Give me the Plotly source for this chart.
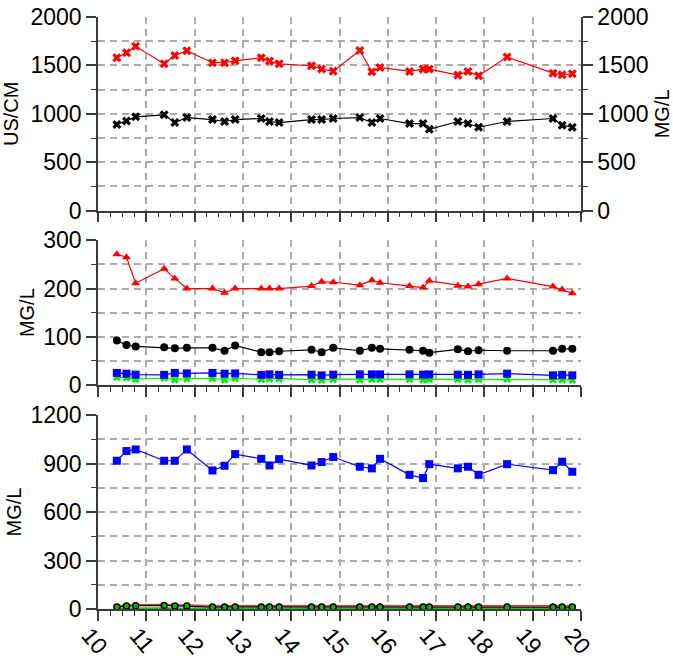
import plotly.graph_objects as go

# Sample times (decimal axis units)
t = [10.39, 10.59, 10.78, 11.37, 11.59, 11.84, 12.37, 12.62, 12.84, 13.38,
     13.55, 13.75, 14.42, 14.63, 14.87, 15.42, 15.67, 15.84, 16.45, 16.73,
     16.86, 17.45, 17.66, 17.88, 18.47, 19.42, 19.61, 19.82]

# Top panel: conductance (US/CM) and dissolved solids (MG/L)
conductance = [1579, 1631, 1697, 1517, 1603, 1652, 1528, 1528, 1548, 1579,
               1545, 1517, 1497, 1462, 1441, 1655, 1434, 1479, 1438, 1462,
               1462, 1400, 1438, 1393, 1586, 1420, 1403, 1414]
dissolved = [890, 927, 969, 990, 910, 962, 941, 921, 941, 952,
             921, 910, 941, 941, 952, 962, 910, 952, 900, 900,
             841, 921, 900, 862, 921, 952, 883, 862]

# Middle panel (MG/L)
mid_red = [271, 265, 211, 241, 221, 200, 200, 191, 200, 200,
           200, 200, 205, 214, 213, 207, 217, 212, 205, 202,
           216, 206, 204, 209, 221, 204, 198, 190]
mid_black = [92, 83, 80, 78, 76, 77, 77, 71, 82, 68,
             68, 70, 73, 68, 77, 71, 77, 75, 73, 71,
             67, 74, 70, 72, 71, 71, 75, 75]
mid_blue = [25, 23.5, 21.5, 21, 25, 24, 25, 23.5, 24, 21,
            22, 21, 21.5, 20, 21.5, 22, 22, 22, 22, 21.5,
            22, 21.5, 21, 22, 23.5, 20, 21, 20]
mid_green = [16, 15, 12, 14.5, 11, 13, 14, 11, 14, 12,
             13, 13, 11, 10.5, 12, 11, 12, 12, 12, 11,
             12, 12, 11, 12, 12.5, 11, 11, 10.5]

# Bottom panel (MG/L)
low_blue = [917, 977, 987, 917, 917, 987, 857, 886, 958, 929,
            888, 927, 888, 909, 940, 880, 870, 929, 830, 810,
            896, 870, 880, 830, 896, 859, 911, 849]
low_red = [20, 26, 27, 28, 25, 24, 20, 20, 20, 20,
           20, 20, 20, 20, 21, 20, 20, 20, 20, 20,
           20, 20, 20, 20, 20, 20, 20, 20]
low_black = [13, 18, 20, 22, 19, 18, 12, 13, 13, 12,
             12, 12, 12, 12, 13, 13, 12, 12, 12, 12,
             12, 12, 12, 12, 12, 12, 12, 12]
low_green = [3, 4, 4, 4, 3, 3, 3, 3, 3, 3,
             3, 3, 3, 3, 3, 3, 3, 3, 3, 3,
             3, 3, 3, 3, 3, 3, 3, 3]

x_ticks = list(range(10, 21))
x_labels = [str(v) for v in x_ticks]

FONT = "Liberation Sans, Arial, sans-serif"
AX = "#3a3a3a"
GRID = "#ababab"
DASH = "7px,5px"

fig = go.Figure()


def line(x, y, color, symbol, size, xa, ya, lw=1.2, fill=None, mline=None):
    fig.add_trace(go.Scatter(
        x=x, y=y, mode="lines+markers", xaxis=xa, yaxis=ya,
        line=dict(color=color, width=lw),
        marker=dict(symbol=symbol, size=size, color=fill or color,
                    line=mline or dict(width=0)),
        showlegend=False, hoverinfo="skip"))


# top
line(t, conductance, "#ff0000", "x", 8, "x", "y")
line(t, dissolved, "#000000", "x", 8, "x", "y2")
# middle
line(t, mid_green, "#00ee00", "x", 7, "x2", "y3")
line(t, mid_blue, "#0000ff", "square", 8, "x2", "y3")
line(t, mid_black, "#000000", "circle", 8, "x2", "y3")
line(t, mid_red, "#ff0000", "triangle-up", 8, "x2", "y3")
# bottom
line(t, low_green, "#00cc00", "x", 5, "x3", "y4", lw=2)
line(t, low_red, "#ff3030", "triangle-up", 5, "x3", "y4", lw=1.5)
line(t, low_black, "#000000", "circle", 6, "x3", "y4", fill="#00bb00",
     mline=dict(color="#000000", width=1.5))
line(t, low_blue, "#0000ff", "square", 8, "x3", "y4")

xcommon = dict(
    range=[10, 20], tickmode="array", tickvals=x_ticks, ticktext=x_labels,
    showline=True, linecolor=AX, linewidth=1.5,
    ticks="outside", ticklen=10, tickwidth=1.5, tickcolor=AX,
    showgrid=True, gridcolor=GRID, gridwidth=1.5, griddash=DASH,
    zeroline=False, automargin=False,
    minor=dict(dtick=0.25, ticks="outside", ticklen=5, tickwidth=1.2,
               tickcolor=AX, showgrid=False),
    tickfont=dict(family=FONT, size=23, color="#000"),
)


def ycommon(rng, dtick, title, standoff=6):
    return dict(
        range=rng, dtick=dtick, tick0=0,
        showline=True, linecolor=AX, linewidth=1.5,
        ticks="outside", ticklen=10, tickwidth=1.5, tickcolor=AX,
        showgrid=True, gridcolor=GRID, gridwidth=1.5, griddash=DASH,
        zeroline=False, automargin=False,
        minor=dict(dtick=dtick / 2, tick0=0, ticks="outside", ticklen=5,
                   tickwidth=1.2, tickcolor=AX, showgrid=True,
                   gridcolor=GRID, gridwidth=1.5, griddash=DASH),
        tickfont=dict(family=FONT, size=23, color="#000"),
        title=dict(text=title, font=dict(family=FONT, size=20, color="#000"),
                   standoff=standoff),
    )


fig.update_layout(
    width=673, height=662,
    margin=dict(l=98, r=92, t=17, b=53),
    paper_bgcolor="white", plot_bgcolor="white",
    xaxis=dict(xcommon, domain=[0, 1], anchor="y", showticklabels=False),
    xaxis2=dict(xcommon, domain=[0, 1], anchor="y3", showticklabels=False,
                matches="x"),
    xaxis3=dict(xcommon, domain=[0, 1], anchor="y4", showticklabels=True,
                tickangle=50, matches="x", ticklabelshift=-9,
                ticklabelstandoff=-8),
    yaxis=dict(ycommon([0, 2000], 500, "US/CM"), domain=[0.6728, 1.0],
               anchor="x"),
    yaxis2=dict(ycommon([0, 2000], 500, "MG/L", standoff=14), overlaying="y",
                side="right", anchor="x", showgrid=False),
    yaxis3=dict(ycommon([0, 300], 100, "MG/L", standoff=3),
                domain=[0.3784, 0.6228], anchor="x2"),
    yaxis4=dict(ycommon([0, 1200], 300, "MG/L", standoff=3),
                domain=[0.0, 0.3277], anchor="x3"),
)
fig.layout.yaxis2.minor.showgrid = False

fig.write_html("out.html")
